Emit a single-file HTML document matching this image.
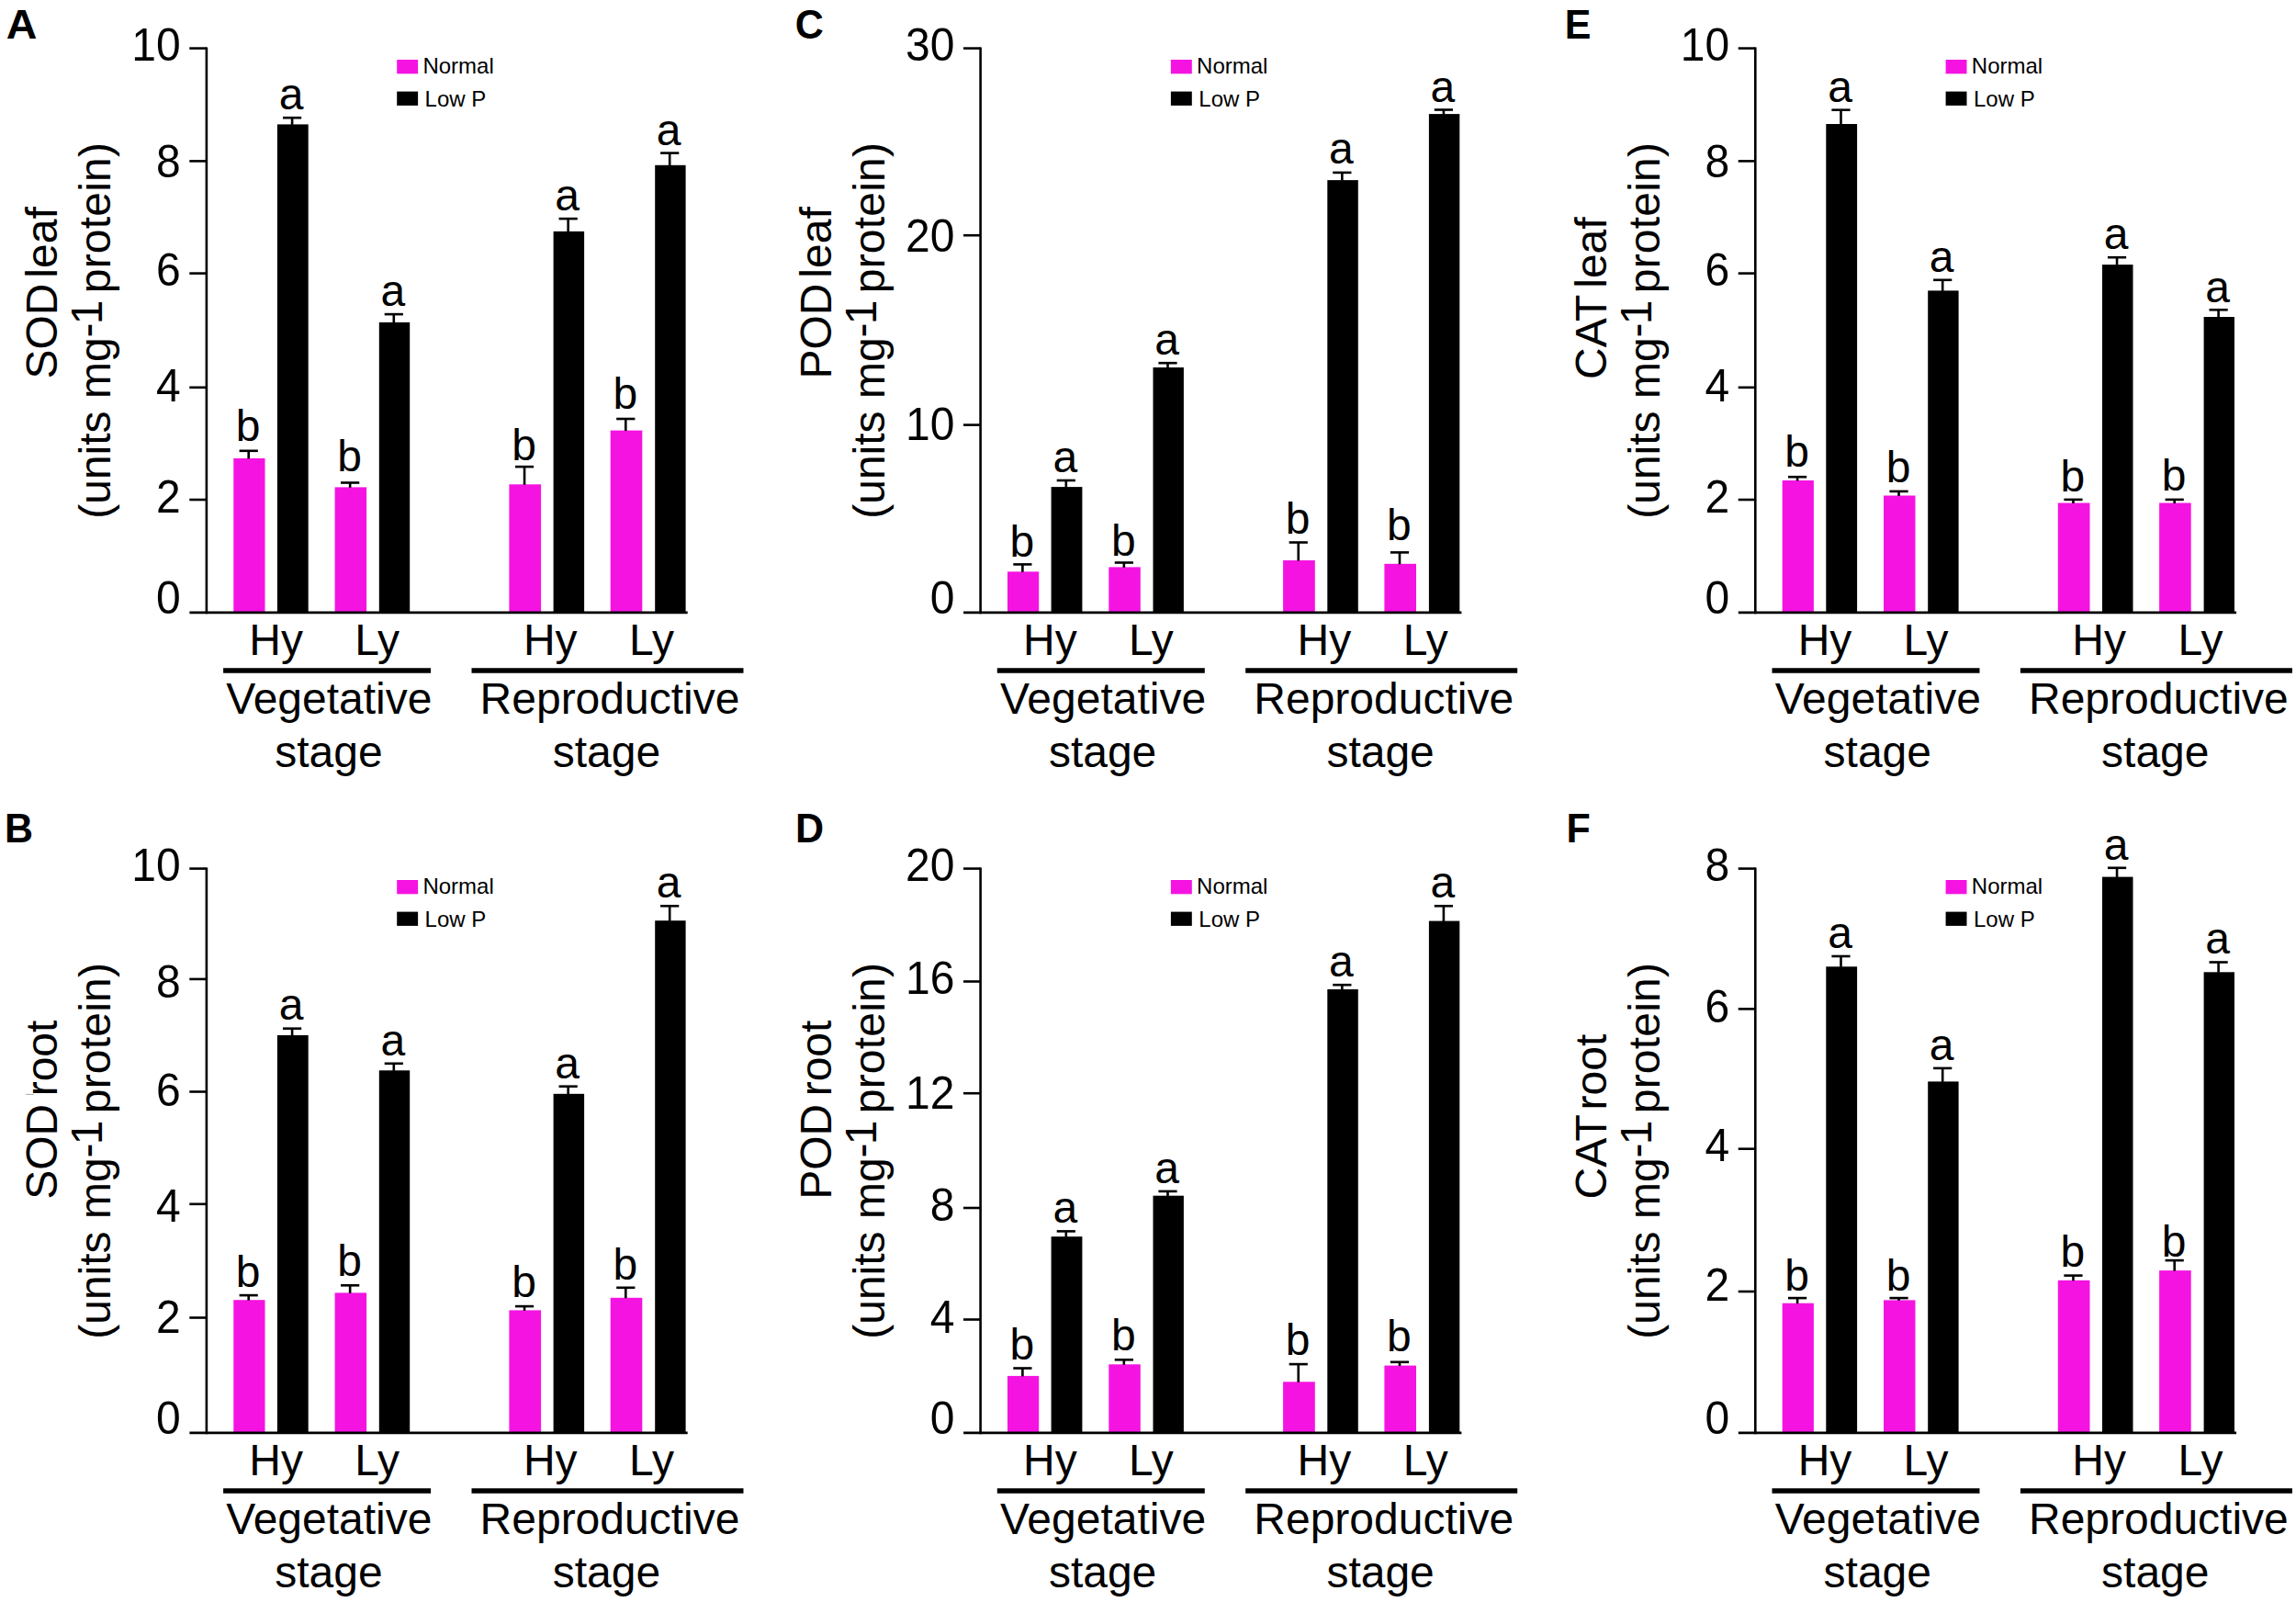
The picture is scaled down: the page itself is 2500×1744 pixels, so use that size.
<!DOCTYPE html>
<html lang="en">
<head>
<meta charset="utf-8">
<title>Antioxidant enzyme activities under normal and low P</title>
<style>
html,body{margin:0;padding:0;background:#fff;}
body{width:2500px;height:1744px;}
svg{display:block;}
svg text{font-family:'Liberation Sans', sans-serif;font-size:48px;fill:#000;}
</style>
</head>
<body>
<svg width="2500" height="1744" viewBox="0 0 2500 1744">
<rect x="0" y="0" width="2500" height="1744" fill="#fff"/>
<g id="panelA">
<text transform="translate(6.7 41.6) scale(1.085 1.045)" style="font-size:43px" font-weight="bold">A</text>
<rect x="254.3" y="498.9" width="34.2" height="168" fill="#f513e2"/>
<line x1="270.7" y1="490.8" x2="270.7" y2="499.4" stroke="#000" stroke-width="2.6"/>
<line x1="260.6" y1="490.8" x2="280.8" y2="490.8" stroke="#000" stroke-width="2.6"/>
<text x="270.15" y="480" text-anchor="middle">b</text>
<rect x="301.9" y="135.4" width="33.8" height="531.5" fill="#000"/>
<line x1="318.1" y1="128.2" x2="318.1" y2="135.9" stroke="#000" stroke-width="2.6"/>
<line x1="308" y1="128.2" x2="328.2" y2="128.2" stroke="#000" stroke-width="2.6"/>
<text x="317.1" y="118.9" text-anchor="middle">a</text>
<rect x="364.6" y="530.4" width="34.5" height="136.5" fill="#f513e2"/>
<line x1="381.15" y1="525.5" x2="381.15" y2="530.9" stroke="#000" stroke-width="2.6"/>
<line x1="371.05" y1="525.5" x2="391.25" y2="525.5" stroke="#000" stroke-width="2.6"/>
<text x="380.6" y="513.1" text-anchor="middle">b</text>
<rect x="412.8" y="350.9" width="33.4" height="316" fill="#000"/>
<line x1="428.8" y1="342.1" x2="428.8" y2="351.4" stroke="#000" stroke-width="2.6"/>
<line x1="418.7" y1="342.1" x2="438.9" y2="342.1" stroke="#000" stroke-width="2.6"/>
<text x="427.8" y="333" text-anchor="middle">a</text>
<rect x="554.4" y="527.3" width="34.7" height="139.6" fill="#f513e2"/>
<line x1="571.05" y1="508.1" x2="571.05" y2="527.8" stroke="#000" stroke-width="2.6"/>
<line x1="560.95" y1="508.1" x2="581.15" y2="508.1" stroke="#000" stroke-width="2.6"/>
<text x="570.5" y="500.9" text-anchor="middle">b</text>
<rect x="602.6" y="251.9" width="33.5" height="415" fill="#000"/>
<line x1="618.65" y1="238.1" x2="618.65" y2="252.4" stroke="#000" stroke-width="2.6"/>
<line x1="608.55" y1="238.1" x2="628.75" y2="238.1" stroke="#000" stroke-width="2.6"/>
<text x="617.65" y="229.3" text-anchor="middle">a</text>
<rect x="664.7" y="468.6" width="34.6" height="198.3" fill="#f513e2"/>
<line x1="681.3" y1="456" x2="681.3" y2="469.1" stroke="#000" stroke-width="2.6"/>
<line x1="671.2" y1="456" x2="691.4" y2="456" stroke="#000" stroke-width="2.6"/>
<text x="680.75" y="444.9" text-anchor="middle">b</text>
<rect x="713.2" y="179.8" width="33.4" height="487.1" fill="#000"/>
<line x1="729.2" y1="166.6" x2="729.2" y2="180.3" stroke="#000" stroke-width="2.6"/>
<line x1="719.1" y1="166.6" x2="739.3" y2="166.6" stroke="#000" stroke-width="2.6"/>
<text x="728.2" y="157.9" text-anchor="middle">a</text>
<line x1="224.9" y1="51.4" x2="224.9" y2="668.2" stroke="#000" stroke-width="2.6"/>
<line x1="206.4" y1="666.9" x2="748.7" y2="666.9" stroke="#000" stroke-width="2.6"/>
<line x1="206.3" y1="52.6" x2="224.9" y2="52.6" stroke="#000" stroke-width="2.6"/>
<text transform="translate(196.7 65.7) scale(1 1.04)" text-anchor="end">10</text>
<line x1="206.3" y1="175.4" x2="224.9" y2="175.4" stroke="#000" stroke-width="2.6"/>
<text transform="translate(196.7 192.6) scale(1 1.04)" text-anchor="end">8</text>
<line x1="206.3" y1="297.6" x2="224.9" y2="297.6" stroke="#000" stroke-width="2.6"/>
<text transform="translate(196.7 310.9) scale(1 1.04)" text-anchor="end">6</text>
<line x1="206.3" y1="421.8" x2="224.9" y2="421.8" stroke="#000" stroke-width="2.6"/>
<text transform="translate(196.7 436.5) scale(1 1.04)" text-anchor="end">4</text>
<line x1="206.3" y1="544" x2="224.9" y2="544" stroke="#000" stroke-width="2.6"/>
<text transform="translate(196.7 558) scale(1 1.04)" text-anchor="end">2</text>
<text transform="translate(196.7 667.9) scale(1 1.04)" text-anchor="end">0</text>
<rect x="432.2" y="65" width="22.9" height="15.3" fill="#f513e2"/>
<rect x="432.2" y="99.6" width="22.9" height="15.3" fill="#000"/>
<text x="460.4" y="80" style="font-size:24px">Normal</text>
<text x="462.6" y="115.8" style="font-size:24px">Low P</text>
<text x="271.3" y="713.4">Hy</text>
<text x="386.2" y="713.4">Ly</text>
<text x="569.9" y="713.4">Hy</text>
<text x="685.1" y="713.4">Ly</text>
<line x1="243.1" y1="730" x2="469.1" y2="730" stroke="#000" stroke-width="5.3"/>
<line x1="513.5" y1="730" x2="809.5" y2="730" stroke="#000" stroke-width="5.3"/>
<text x="358.4" y="777.1" text-anchor="middle">Vegetative</text>
<text x="357.9" y="834.5" text-anchor="middle">stage</text>
<text x="664" y="777.1" text-anchor="middle">Reproductive</text>
<text x="660.4" y="834.5" text-anchor="middle">stage</text>
<text transform="translate(62.4 412.5) rotate(-90)">SOD <tspan dx="-7.5">leaf</tspan></text>
<text transform="translate(120.1 564.8) rotate(-90)">(units mg<tspan dy="-9">-</tspan><tspan dx="-1.9">1</tspan><tspan dy="9" dx="-6.2" style="letter-spacing:0.22px"> protein)</tspan></text>
</g>
<g id="panelC">
<text transform="translate(865.7 41.5) scale(1 1.045)" style="font-size:43px" font-weight="bold">C</text>
<rect x="1097" y="622.3" width="34.2" height="44.6" fill="#f513e2"/>
<line x1="1113.4" y1="614.4" x2="1113.4" y2="622.8" stroke="#000" stroke-width="2.6"/>
<line x1="1103.3" y1="614.4" x2="1123.5" y2="614.4" stroke="#000" stroke-width="2.6"/>
<text x="1112.85" y="605.6" text-anchor="middle">b</text>
<rect x="1144.6" y="530.1" width="33.8" height="136.8" fill="#000"/>
<line x1="1160.8" y1="523" x2="1160.8" y2="530.6" stroke="#000" stroke-width="2.6"/>
<line x1="1150.7" y1="523" x2="1170.9" y2="523" stroke="#000" stroke-width="2.6"/>
<text x="1159.8" y="513.6" text-anchor="middle">a</text>
<rect x="1207.3" y="617.4" width="34.5" height="49.5" fill="#f513e2"/>
<line x1="1223.85" y1="612.5" x2="1223.85" y2="617.9" stroke="#000" stroke-width="2.6"/>
<line x1="1213.75" y1="612.5" x2="1233.95" y2="612.5" stroke="#000" stroke-width="2.6"/>
<text x="1223.3" y="605.2" text-anchor="middle">b</text>
<rect x="1255.5" y="400" width="33.4" height="266.9" fill="#000"/>
<line x1="1271.5" y1="395.2" x2="1271.5" y2="400.5" stroke="#000" stroke-width="2.6"/>
<line x1="1261.4" y1="395.2" x2="1281.6" y2="395.2" stroke="#000" stroke-width="2.6"/>
<text x="1270.5" y="386.3" text-anchor="middle">a</text>
<rect x="1397.1" y="610" width="34.7" height="56.9" fill="#f513e2"/>
<line x1="1413.75" y1="590.5" x2="1413.75" y2="610.5" stroke="#000" stroke-width="2.6"/>
<line x1="1403.65" y1="590.5" x2="1423.85" y2="590.5" stroke="#000" stroke-width="2.6"/>
<text x="1413.2" y="581.1" text-anchor="middle">b</text>
<rect x="1445.3" y="196.1" width="33.5" height="470.8" fill="#000"/>
<line x1="1461.35" y1="187.9" x2="1461.35" y2="196.6" stroke="#000" stroke-width="2.6"/>
<line x1="1451.25" y1="187.9" x2="1471.45" y2="187.9" stroke="#000" stroke-width="2.6"/>
<text x="1460.35" y="177.8" text-anchor="middle">a</text>
<rect x="1507.4" y="613.8" width="34.6" height="53.1" fill="#f513e2"/>
<line x1="1524" y1="601.4" x2="1524" y2="614.3" stroke="#000" stroke-width="2.6"/>
<line x1="1513.9" y1="601.4" x2="1534.1" y2="601.4" stroke="#000" stroke-width="2.6"/>
<text x="1523.45" y="587.8" text-anchor="middle">b</text>
<rect x="1555.9" y="124.1" width="33.4" height="542.8" fill="#000"/>
<line x1="1571.9" y1="119.5" x2="1571.9" y2="124.6" stroke="#000" stroke-width="2.6"/>
<line x1="1561.8" y1="119.5" x2="1582" y2="119.5" stroke="#000" stroke-width="2.6"/>
<text x="1570.9" y="110.9" text-anchor="middle">a</text>
<line x1="1067.6" y1="51.4" x2="1067.6" y2="668.2" stroke="#000" stroke-width="2.6"/>
<line x1="1049.1" y1="666.9" x2="1591.4" y2="666.9" stroke="#000" stroke-width="2.6"/>
<line x1="1049" y1="52.6" x2="1067.6" y2="52.6" stroke="#000" stroke-width="2.6"/>
<text transform="translate(1039.4 65.8) scale(1 1.04)" text-anchor="end">30</text>
<line x1="1049" y1="256.2" x2="1067.6" y2="256.2" stroke="#000" stroke-width="2.6"/>
<text transform="translate(1039.4 273.8) scale(1 1.04)" text-anchor="end">20</text>
<line x1="1049" y1="462.6" x2="1067.6" y2="462.6" stroke="#000" stroke-width="2.6"/>
<text transform="translate(1039.4 479.3) scale(1 1.04)" text-anchor="end">10</text>
<text transform="translate(1039.4 667.9) scale(1 1.04)" text-anchor="end">0</text>
<rect x="1274.9" y="65" width="22.9" height="15.3" fill="#f513e2"/>
<rect x="1274.9" y="99.6" width="22.9" height="15.3" fill="#000"/>
<text x="1303.1" y="80" style="font-size:24px">Normal</text>
<text x="1305.3" y="115.8" style="font-size:24px">Low P</text>
<text x="1114" y="713.4">Hy</text>
<text x="1228.9" y="713.4">Ly</text>
<text x="1412.6" y="713.4">Hy</text>
<text x="1527.8" y="713.4">Ly</text>
<line x1="1085.8" y1="730" x2="1311.8" y2="730" stroke="#000" stroke-width="5.3"/>
<line x1="1356.2" y1="730" x2="1652.2" y2="730" stroke="#000" stroke-width="5.3"/>
<text x="1201.1" y="777.1" text-anchor="middle">Vegetative</text>
<text x="1200.6" y="834.5" text-anchor="middle">stage</text>
<text x="1506.7" y="777.1" text-anchor="middle">Reproductive</text>
<text x="1503.1" y="834.5" text-anchor="middle">stage</text>
<text transform="translate(905.1 412.5) rotate(-90)">POD <tspan dx="-7.5">leaf</tspan></text>
<text transform="translate(962.8 564.8) rotate(-90)">(units mg<tspan dy="-9">-</tspan><tspan dx="-1.9">1</tspan><tspan dy="9" dx="-6.2" style="letter-spacing:0.22px"> protein)</tspan></text>
</g>
<g id="panelE">
<text transform="translate(1703.7 41.6) scale(1 1.045)" style="font-size:43px" font-weight="bold">E</text>
<rect x="1940.7" y="523" width="34.2" height="143.9" fill="#f513e2"/>
<line x1="1957.1" y1="519.2" x2="1957.1" y2="523.5" stroke="#000" stroke-width="2.6"/>
<line x1="1947" y1="519.2" x2="1967.2" y2="519.2" stroke="#000" stroke-width="2.6"/>
<text x="1956.55" y="508.3" text-anchor="middle">b</text>
<rect x="1988.3" y="135" width="33.8" height="531.9" fill="#000"/>
<line x1="2004.5" y1="119.7" x2="2004.5" y2="135.5" stroke="#000" stroke-width="2.6"/>
<line x1="1994.4" y1="119.7" x2="2014.6" y2="119.7" stroke="#000" stroke-width="2.6"/>
<text x="2003.5" y="110.9" text-anchor="middle">a</text>
<rect x="2051" y="539.5" width="34.5" height="127.4" fill="#f513e2"/>
<line x1="2067.55" y1="534.9" x2="2067.55" y2="540" stroke="#000" stroke-width="2.6"/>
<line x1="2057.45" y1="534.9" x2="2077.65" y2="534.9" stroke="#000" stroke-width="2.6"/>
<text x="2067" y="525" text-anchor="middle">b</text>
<rect x="2099.2" y="316.4" width="33.4" height="350.5" fill="#000"/>
<line x1="2115.2" y1="304.8" x2="2115.2" y2="316.9" stroke="#000" stroke-width="2.6"/>
<line x1="2105.1" y1="304.8" x2="2125.3" y2="304.8" stroke="#000" stroke-width="2.6"/>
<text x="2114.2" y="295.6" text-anchor="middle">a</text>
<rect x="2240.8" y="547.5" width="34.7" height="119.4" fill="#f513e2"/>
<line x1="2257.45" y1="543.9" x2="2257.45" y2="548" stroke="#000" stroke-width="2.6"/>
<line x1="2247.35" y1="543.9" x2="2267.55" y2="543.9" stroke="#000" stroke-width="2.6"/>
<text x="2256.9" y="534.8" text-anchor="middle">b</text>
<rect x="2289" y="288.1" width="33.5" height="378.8" fill="#000"/>
<line x1="2305.05" y1="280.2" x2="2305.05" y2="288.6" stroke="#000" stroke-width="2.6"/>
<line x1="2294.95" y1="280.2" x2="2315.15" y2="280.2" stroke="#000" stroke-width="2.6"/>
<text x="2304.05" y="271.3" text-anchor="middle">a</text>
<rect x="2351.1" y="547.5" width="34.6" height="119.4" fill="#f513e2"/>
<line x1="2367.7" y1="543.9" x2="2367.7" y2="548" stroke="#000" stroke-width="2.6"/>
<line x1="2357.6" y1="543.9" x2="2377.8" y2="543.9" stroke="#000" stroke-width="2.6"/>
<text x="2367.15" y="533.8" text-anchor="middle">b</text>
<rect x="2399.6" y="345" width="33.4" height="321.9" fill="#000"/>
<line x1="2415.6" y1="337.3" x2="2415.6" y2="345.5" stroke="#000" stroke-width="2.6"/>
<line x1="2405.5" y1="337.3" x2="2425.7" y2="337.3" stroke="#000" stroke-width="2.6"/>
<text x="2414.6" y="328.8" text-anchor="middle">a</text>
<line x1="1911.3" y1="51.4" x2="1911.3" y2="668.2" stroke="#000" stroke-width="2.6"/>
<line x1="1892.8" y1="666.9" x2="2435.1" y2="666.9" stroke="#000" stroke-width="2.6"/>
<line x1="1892.7" y1="52.6" x2="1911.3" y2="52.6" stroke="#000" stroke-width="2.6"/>
<text transform="translate(1883.1 65.7) scale(1 1.04)" text-anchor="end">10</text>
<line x1="1892.7" y1="175.4" x2="1911.3" y2="175.4" stroke="#000" stroke-width="2.6"/>
<text transform="translate(1883.1 192.6) scale(1 1.04)" text-anchor="end">8</text>
<line x1="1892.7" y1="297.6" x2="1911.3" y2="297.6" stroke="#000" stroke-width="2.6"/>
<text transform="translate(1883.1 310.9) scale(1 1.04)" text-anchor="end">6</text>
<line x1="1892.7" y1="421.8" x2="1911.3" y2="421.8" stroke="#000" stroke-width="2.6"/>
<text transform="translate(1883.1 436.5) scale(1 1.04)" text-anchor="end">4</text>
<line x1="1892.7" y1="544" x2="1911.3" y2="544" stroke="#000" stroke-width="2.6"/>
<text transform="translate(1883.1 558) scale(1 1.04)" text-anchor="end">2</text>
<text transform="translate(1883.1 667.9) scale(1 1.04)" text-anchor="end">0</text>
<rect x="2118.6" y="65" width="22.9" height="15.3" fill="#f513e2"/>
<rect x="2118.6" y="99.6" width="22.9" height="15.3" fill="#000"/>
<text x="2146.8" y="80" style="font-size:24px">Normal</text>
<text x="2149" y="115.8" style="font-size:24px">Low P</text>
<text x="1957.7" y="713.4">Hy</text>
<text x="2072.6" y="713.4">Ly</text>
<text x="2256.3" y="713.4">Hy</text>
<text x="2371.5" y="713.4">Ly</text>
<line x1="1929.5" y1="730" x2="2155.5" y2="730" stroke="#000" stroke-width="5.3"/>
<line x1="2199.9" y1="730" x2="2495.9" y2="730" stroke="#000" stroke-width="5.3"/>
<text x="2044.8" y="777.1" text-anchor="middle">Vegetative</text>
<text x="2044.3" y="834.5" text-anchor="middle">stage</text>
<text x="2350.4" y="777.1" text-anchor="middle">Reproductive</text>
<text x="2346.8" y="834.5" text-anchor="middle">stage</text>
<text transform="translate(1748.8 413) rotate(-90)">CAT <tspan dx="-5.65">leaf</tspan></text>
<text transform="translate(1806.5 564.8) rotate(-90)">(units mg<tspan dy="-9">-</tspan><tspan dx="-1.9">1</tspan><tspan dy="9" dx="-6.2" style="letter-spacing:0.22px"> protein)</tspan></text>
</g>
<g id="panelB">
<text transform="translate(5.1 917) scale(1 1.045)" style="font-size:43px" font-weight="bold">B</text>
<rect x="254.3" y="1415.2" width="34.2" height="144.7" fill="#f513e2"/>
<line x1="270.7" y1="1410.1" x2="270.7" y2="1415.7" stroke="#000" stroke-width="2.6"/>
<line x1="260.6" y1="1410.1" x2="280.8" y2="1410.1" stroke="#000" stroke-width="2.6"/>
<text x="270.15" y="1401.3" text-anchor="middle">b</text>
<rect x="301.9" y="1127" width="33.8" height="432.9" fill="#000"/>
<line x1="318.1" y1="1119.7" x2="318.1" y2="1127.5" stroke="#000" stroke-width="2.6"/>
<line x1="308" y1="1119.7" x2="328.2" y2="1119.7" stroke="#000" stroke-width="2.6"/>
<text x="317.1" y="1110.4" text-anchor="middle">a</text>
<rect x="364.6" y="1407.4" width="34.5" height="152.5" fill="#f513e2"/>
<line x1="381.15" y1="1399.3" x2="381.15" y2="1407.9" stroke="#000" stroke-width="2.6"/>
<line x1="371.05" y1="1399.3" x2="391.25" y2="1399.3" stroke="#000" stroke-width="2.6"/>
<text x="380.6" y="1389.3" text-anchor="middle">b</text>
<rect x="412.8" y="1165.3" width="33.4" height="394.6" fill="#000"/>
<line x1="428.8" y1="1157.8" x2="428.8" y2="1165.8" stroke="#000" stroke-width="2.6"/>
<line x1="418.7" y1="1157.8" x2="438.9" y2="1157.8" stroke="#000" stroke-width="2.6"/>
<text x="427.8" y="1148.7" text-anchor="middle">a</text>
<rect x="554.4" y="1426.4" width="34.7" height="133.5" fill="#f513e2"/>
<line x1="571.05" y1="1422.1" x2="571.05" y2="1426.9" stroke="#000" stroke-width="2.6"/>
<line x1="560.95" y1="1422.1" x2="581.15" y2="1422.1" stroke="#000" stroke-width="2.6"/>
<text x="570.5" y="1412.1" text-anchor="middle">b</text>
<rect x="602.6" y="1190.8" width="33.5" height="369.1" fill="#000"/>
<line x1="618.65" y1="1182.7" x2="618.65" y2="1191.3" stroke="#000" stroke-width="2.6"/>
<line x1="608.55" y1="1182.7" x2="628.75" y2="1182.7" stroke="#000" stroke-width="2.6"/>
<text x="617.65" y="1173.8" text-anchor="middle">a</text>
<rect x="664.7" y="1412.8" width="34.6" height="147.1" fill="#f513e2"/>
<line x1="681.3" y1="1401.8" x2="681.3" y2="1413.3" stroke="#000" stroke-width="2.6"/>
<line x1="671.2" y1="1401.8" x2="691.4" y2="1401.8" stroke="#000" stroke-width="2.6"/>
<text x="680.75" y="1392.9" text-anchor="middle">b</text>
<rect x="713.2" y="1002.2" width="33.4" height="557.7" fill="#000"/>
<line x1="729.2" y1="986.3" x2="729.2" y2="1002.7" stroke="#000" stroke-width="2.6"/>
<line x1="719.1" y1="986.3" x2="739.3" y2="986.3" stroke="#000" stroke-width="2.6"/>
<text x="728.2" y="977.2" text-anchor="middle">a</text>
<line x1="224.9" y1="944.4" x2="224.9" y2="1561.2" stroke="#000" stroke-width="2.6"/>
<line x1="206.4" y1="1559.9" x2="748.7" y2="1559.9" stroke="#000" stroke-width="2.6"/>
<line x1="206.3" y1="945.6" x2="224.9" y2="945.6" stroke="#000" stroke-width="2.6"/>
<text transform="translate(196.7 958.7) scale(1 1.04)" text-anchor="end">10</text>
<line x1="206.3" y1="1065.9" x2="224.9" y2="1065.9" stroke="#000" stroke-width="2.6"/>
<text transform="translate(196.7 1085.6) scale(1 1.04)" text-anchor="end">8</text>
<line x1="206.3" y1="1188.5" x2="224.9" y2="1188.5" stroke="#000" stroke-width="2.6"/>
<text transform="translate(196.7 1203.9) scale(1 1.04)" text-anchor="end">6</text>
<line x1="206.3" y1="1310.8" x2="224.9" y2="1310.8" stroke="#000" stroke-width="2.6"/>
<text transform="translate(196.7 1329.5) scale(1 1.04)" text-anchor="end">4</text>
<line x1="206.3" y1="1434.5" x2="224.9" y2="1434.5" stroke="#000" stroke-width="2.6"/>
<text transform="translate(196.7 1451) scale(1 1.04)" text-anchor="end">2</text>
<text transform="translate(196.7 1560.9) scale(1 1.04)" text-anchor="end">0</text>
<rect x="432.2" y="958" width="22.9" height="15.3" fill="#f513e2"/>
<rect x="432.2" y="992.6" width="22.9" height="15.3" fill="#000"/>
<text x="460.4" y="973" style="font-size:24px">Normal</text>
<text x="462.6" y="1008.8" style="font-size:24px">Low P</text>
<text x="271.3" y="1606.4">Hy</text>
<text x="386.2" y="1606.4">Ly</text>
<text x="569.9" y="1606.4">Hy</text>
<text x="685.1" y="1606.4">Ly</text>
<line x1="243.1" y1="1623" x2="469.1" y2="1623" stroke="#000" stroke-width="5.3"/>
<line x1="513.5" y1="1623" x2="809.5" y2="1623" stroke="#000" stroke-width="5.3"/>
<text x="358.4" y="1670.1" text-anchor="middle">Vegetative</text>
<text x="357.9" y="1727.5" text-anchor="middle">stage</text>
<text x="664" y="1670.1" text-anchor="middle">Reproductive</text>
<text x="660.4" y="1727.5" text-anchor="middle">stage</text>
<text transform="translate(62.4 1305.8) rotate(-90)">SOD <tspan dx="-4.9">root</tspan></text>
<line x1="28" y1="1191.4" x2="36.6" y2="1191.4" stroke="#8a8a8a" stroke-width="0.7"/>
<text transform="translate(120.1 1457.8) rotate(-90)">(units mg<tspan dy="-9">-</tspan><tspan dx="-1.9">1</tspan><tspan dy="9" dx="-6.2" style="letter-spacing:0.22px"> protein)</tspan></text>
</g>
<g id="panelD">
<text transform="translate(865.9 917) scale(1 1.045)" style="font-size:43px" font-weight="bold">D</text>
<rect x="1097" y="1497.9" width="34.2" height="62" fill="#f513e2"/>
<line x1="1113.4" y1="1489.5" x2="1113.4" y2="1498.4" stroke="#000" stroke-width="2.6"/>
<line x1="1103.3" y1="1489.5" x2="1123.5" y2="1489.5" stroke="#000" stroke-width="2.6"/>
<text x="1112.85" y="1480.2" text-anchor="middle">b</text>
<rect x="1144.6" y="1346.2" width="33.8" height="213.7" fill="#000"/>
<line x1="1160.8" y1="1340.4" x2="1160.8" y2="1346.7" stroke="#000" stroke-width="2.6"/>
<line x1="1150.7" y1="1340.4" x2="1170.9" y2="1340.4" stroke="#000" stroke-width="2.6"/>
<text x="1159.8" y="1330.7" text-anchor="middle">a</text>
<rect x="1207.3" y="1485.3" width="34.5" height="74.6" fill="#f513e2"/>
<line x1="1223.85" y1="1480.3" x2="1223.85" y2="1485.8" stroke="#000" stroke-width="2.6"/>
<line x1="1213.75" y1="1480.3" x2="1233.95" y2="1480.3" stroke="#000" stroke-width="2.6"/>
<text x="1223.3" y="1470.2" text-anchor="middle">b</text>
<rect x="1255.5" y="1301.7" width="33.4" height="258.2" fill="#000"/>
<line x1="1271.5" y1="1296.9" x2="1271.5" y2="1302.2" stroke="#000" stroke-width="2.6"/>
<line x1="1261.4" y1="1296.9" x2="1281.6" y2="1296.9" stroke="#000" stroke-width="2.6"/>
<text x="1270.5" y="1287.6" text-anchor="middle">a</text>
<rect x="1397.1" y="1504.3" width="34.7" height="55.6" fill="#f513e2"/>
<line x1="1413.75" y1="1485.1" x2="1413.75" y2="1504.8" stroke="#000" stroke-width="2.6"/>
<line x1="1403.65" y1="1485.1" x2="1423.85" y2="1485.1" stroke="#000" stroke-width="2.6"/>
<text x="1413.2" y="1475.4" text-anchor="middle">b</text>
<rect x="1445.3" y="1077" width="33.5" height="482.9" fill="#000"/>
<line x1="1461.35" y1="1072.2" x2="1461.35" y2="1077.5" stroke="#000" stroke-width="2.6"/>
<line x1="1451.25" y1="1072.2" x2="1471.45" y2="1072.2" stroke="#000" stroke-width="2.6"/>
<text x="1460.35" y="1062.9" text-anchor="middle">a</text>
<rect x="1507.4" y="1486.6" width="34.6" height="73.3" fill="#f513e2"/>
<line x1="1524" y1="1482.8" x2="1524" y2="1487.1" stroke="#000" stroke-width="2.6"/>
<line x1="1513.9" y1="1482.8" x2="1534.1" y2="1482.8" stroke="#000" stroke-width="2.6"/>
<text x="1523.45" y="1470.8" text-anchor="middle">b</text>
<rect x="1555.9" y="1002.6" width="33.4" height="557.3" fill="#000"/>
<line x1="1571.9" y1="986.3" x2="1571.9" y2="1003.1" stroke="#000" stroke-width="2.6"/>
<line x1="1561.8" y1="986.3" x2="1582" y2="986.3" stroke="#000" stroke-width="2.6"/>
<text x="1570.9" y="977.2" text-anchor="middle">a</text>
<line x1="1067.6" y1="944.4" x2="1067.6" y2="1561.2" stroke="#000" stroke-width="2.6"/>
<line x1="1049.1" y1="1559.9" x2="1591.4" y2="1559.9" stroke="#000" stroke-width="2.6"/>
<line x1="1049" y1="945.6" x2="1067.6" y2="945.6" stroke="#000" stroke-width="2.6"/>
<text transform="translate(1039.4 958.7) scale(1 1.04)" text-anchor="end">20</text>
<line x1="1049" y1="1068.5" x2="1067.6" y2="1068.5" stroke="#000" stroke-width="2.6"/>
<text transform="translate(1039.4 1082.4) scale(1 1.04)" text-anchor="end">16</text>
<line x1="1049" y1="1190.2" x2="1067.6" y2="1190.2" stroke="#000" stroke-width="2.6"/>
<text transform="translate(1039.4 1206.5) scale(1 1.04)" text-anchor="end">12</text>
<line x1="1049" y1="1315" x2="1067.6" y2="1315" stroke="#000" stroke-width="2.6"/>
<text transform="translate(1039.4 1329.4) scale(1 1.04)" text-anchor="end">8</text>
<line x1="1049" y1="1436.5" x2="1067.6" y2="1436.5" stroke="#000" stroke-width="2.6"/>
<text transform="translate(1039.4 1450.5) scale(1 1.04)" text-anchor="end">4</text>
<text transform="translate(1039.4 1560.9) scale(1 1.04)" text-anchor="end">0</text>
<rect x="1274.9" y="958" width="22.9" height="15.3" fill="#f513e2"/>
<rect x="1274.9" y="992.6" width="22.9" height="15.3" fill="#000"/>
<text x="1303.1" y="973" style="font-size:24px">Normal</text>
<text x="1305.3" y="1008.8" style="font-size:24px">Low P</text>
<text x="1114" y="1606.4">Hy</text>
<text x="1228.9" y="1606.4">Ly</text>
<text x="1412.6" y="1606.4">Hy</text>
<text x="1527.8" y="1606.4">Ly</text>
<line x1="1085.8" y1="1623" x2="1311.8" y2="1623" stroke="#000" stroke-width="5.3"/>
<line x1="1356.2" y1="1623" x2="1652.2" y2="1623" stroke="#000" stroke-width="5.3"/>
<text x="1201.1" y="1670.1" text-anchor="middle">Vegetative</text>
<text x="1200.6" y="1727.5" text-anchor="middle">stage</text>
<text x="1506.7" y="1670.1" text-anchor="middle">Reproductive</text>
<text x="1503.1" y="1727.5" text-anchor="middle">stage</text>
<text transform="translate(905.1 1305.8) rotate(-90)">POD <tspan dx="-4.9">root</tspan></text>
<text transform="translate(962.8 1457.8) rotate(-90)">(units mg<tspan dy="-9">-</tspan><tspan dx="-1.9">1</tspan><tspan dy="9" dx="-6.2" style="letter-spacing:0.22px"> protein)</tspan></text>
</g>
<g id="panelF">
<text transform="translate(1705.6 917) scale(1 1.045)" style="font-size:43px" font-weight="bold">F</text>
<rect x="1940.7" y="1418.7" width="34.2" height="141.2" fill="#f513e2"/>
<line x1="1957.1" y1="1413.1" x2="1957.1" y2="1419.2" stroke="#000" stroke-width="2.6"/>
<line x1="1947" y1="1413.1" x2="1967.2" y2="1413.1" stroke="#000" stroke-width="2.6"/>
<text x="1956.55" y="1405" text-anchor="middle">b</text>
<rect x="1988.3" y="1052.3" width="33.8" height="507.6" fill="#000"/>
<line x1="2004.5" y1="1041" x2="2004.5" y2="1052.8" stroke="#000" stroke-width="2.6"/>
<line x1="1994.4" y1="1041" x2="2014.6" y2="1041" stroke="#000" stroke-width="2.6"/>
<text x="2003.5" y="1031.7" text-anchor="middle">a</text>
<rect x="2051" y="1415.4" width="34.5" height="144.5" fill="#f513e2"/>
<line x1="2067.55" y1="1413.1" x2="2067.55" y2="1415.9" stroke="#000" stroke-width="2.6"/>
<line x1="2057.45" y1="1413.1" x2="2077.65" y2="1413.1" stroke="#000" stroke-width="2.6"/>
<text x="2067" y="1405" text-anchor="middle">b</text>
<rect x="2099.2" y="1177.4" width="33.4" height="382.5" fill="#000"/>
<line x1="2115.2" y1="1162.9" x2="2115.2" y2="1177.9" stroke="#000" stroke-width="2.6"/>
<line x1="2105.1" y1="1162.9" x2="2125.3" y2="1162.9" stroke="#000" stroke-width="2.6"/>
<text x="2114.2" y="1153.6" text-anchor="middle">a</text>
<rect x="2240.8" y="1393.8" width="34.7" height="166.1" fill="#f513e2"/>
<line x1="2257.45" y1="1388.6" x2="2257.45" y2="1394.3" stroke="#000" stroke-width="2.6"/>
<line x1="2247.35" y1="1388.6" x2="2267.55" y2="1388.6" stroke="#000" stroke-width="2.6"/>
<text x="2256.9" y="1379.3" text-anchor="middle">b</text>
<rect x="2289" y="954.6" width="33.5" height="605.3" fill="#000"/>
<line x1="2305.05" y1="944.8" x2="2305.05" y2="955.1" stroke="#000" stroke-width="2.6"/>
<line x1="2294.95" y1="944.8" x2="2315.15" y2="944.8" stroke="#000" stroke-width="2.6"/>
<text x="2304.05" y="935.5" text-anchor="middle">a</text>
<rect x="2351.1" y="1383.1" width="34.6" height="176.8" fill="#f513e2"/>
<line x1="2367.7" y1="1372.1" x2="2367.7" y2="1383.6" stroke="#000" stroke-width="2.6"/>
<line x1="2357.6" y1="1372.1" x2="2377.8" y2="1372.1" stroke="#000" stroke-width="2.6"/>
<text x="2367.15" y="1367.8" text-anchor="middle">b</text>
<rect x="2399.6" y="1058.3" width="33.4" height="501.6" fill="#000"/>
<line x1="2415.6" y1="1047.5" x2="2415.6" y2="1058.8" stroke="#000" stroke-width="2.6"/>
<line x1="2405.5" y1="1047.5" x2="2425.7" y2="1047.5" stroke="#000" stroke-width="2.6"/>
<text x="2414.6" y="1038" text-anchor="middle">a</text>
<line x1="1911.3" y1="944.4" x2="1911.3" y2="1561.2" stroke="#000" stroke-width="2.6"/>
<line x1="1892.8" y1="1559.9" x2="2435.1" y2="1559.9" stroke="#000" stroke-width="2.6"/>
<line x1="1892.7" y1="945.6" x2="1911.3" y2="945.6" stroke="#000" stroke-width="2.6"/>
<text transform="translate(1883.1 958.8) scale(1 1.04)" text-anchor="end">8</text>
<line x1="1892.7" y1="1098.4" x2="1911.3" y2="1098.4" stroke="#000" stroke-width="2.6"/>
<text transform="translate(1883.1 1112.6) scale(1 1.04)" text-anchor="end">6</text>
<line x1="1892.7" y1="1250.7" x2="1911.3" y2="1250.7" stroke="#000" stroke-width="2.6"/>
<text transform="translate(1883.1 1264.1) scale(1 1.04)" text-anchor="end">4</text>
<line x1="1892.7" y1="1406" x2="1911.3" y2="1406" stroke="#000" stroke-width="2.6"/>
<text transform="translate(1883.1 1415.7) scale(1 1.04)" text-anchor="end">2</text>
<text transform="translate(1883.1 1560.9) scale(1 1.04)" text-anchor="end">0</text>
<rect x="2118.6" y="958" width="22.9" height="15.3" fill="#f513e2"/>
<rect x="2118.6" y="992.6" width="22.9" height="15.3" fill="#000"/>
<text x="2146.8" y="973" style="font-size:24px">Normal</text>
<text x="2149" y="1008.8" style="font-size:24px">Low P</text>
<text x="1957.7" y="1606.4">Hy</text>
<text x="2072.6" y="1606.4">Ly</text>
<text x="2256.3" y="1606.4">Hy</text>
<text x="2371.5" y="1606.4">Ly</text>
<line x1="1929.5" y1="1623" x2="2155.5" y2="1623" stroke="#000" stroke-width="5.3"/>
<line x1="2199.9" y1="1623" x2="2495.9" y2="1623" stroke="#000" stroke-width="5.3"/>
<text x="2044.8" y="1670.1" text-anchor="middle">Vegetative</text>
<text x="2044.3" y="1727.5" text-anchor="middle">stage</text>
<text x="2350.4" y="1670.1" text-anchor="middle">Reproductive</text>
<text x="2346.8" y="1727.5" text-anchor="middle">stage</text>
<text transform="translate(1748.8 1305.5) rotate(-90)">CAT <tspan dx="-7.8">root</tspan></text>
<text transform="translate(1806.5 1457.8) rotate(-90)">(units mg<tspan dy="-9">-</tspan><tspan dx="-1.9">1</tspan><tspan dy="9" dx="-6.2" style="letter-spacing:0.22px"> protein)</tspan></text>
</g>
</svg>
</body>
</html>
